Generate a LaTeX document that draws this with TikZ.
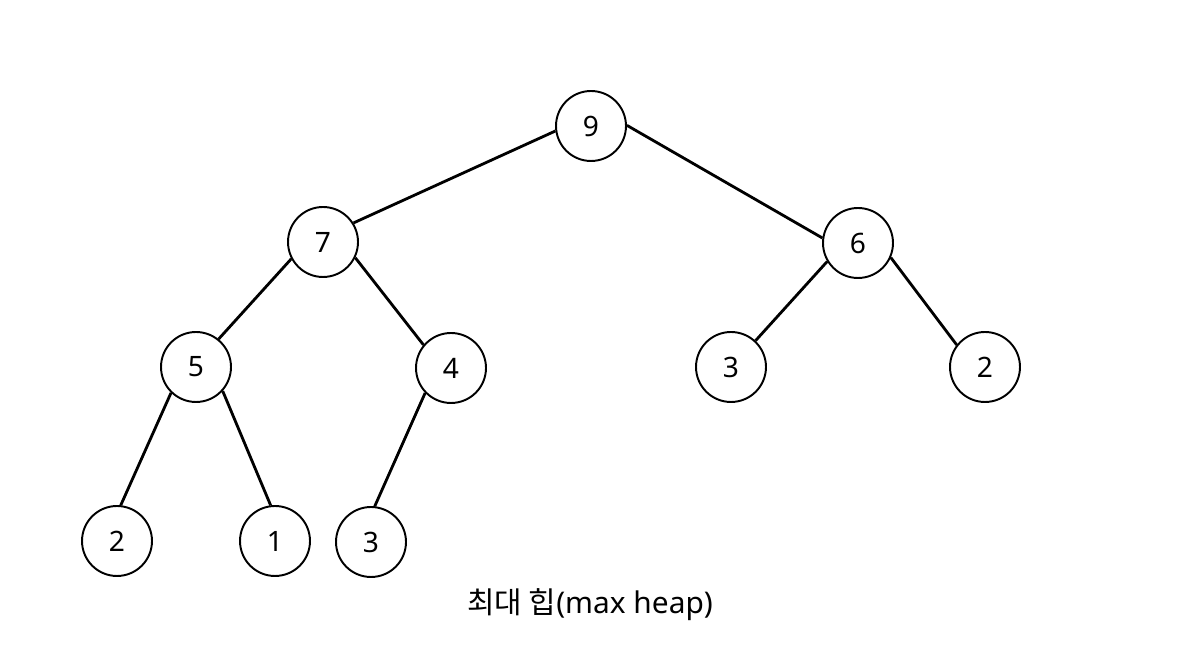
\documentclass[tikz,border=0pt]{standalone}
\usepackage{fontspec}
\setmainfont{Noto Sans}
\newfontfamily\krfont{Noto Sans CJK KR}
\begin{document}
\begin{tikzpicture}[x=0.02cm,y=-0.02cm,
  heapnode/.style={circle,draw=black,line width=1.1pt,minimum size=1.4cm,inner sep=0pt,fill=white,font=\fontsize{16}{18}\selectfont},
  edge/.style={line width=1.6pt,black}]
\useasboundingbox (0,0) rectangle (1181,661);
\node[heapnode] (n9) at (591,126) {9};
\node[heapnode] (n7) at (323,242) {7};
\node[heapnode] (n6) at (858,243) {6};
\node[heapnode] (n5) at (196,367) {5};
\node[heapnode] (n4) at (451,368) {4};
\node[heapnode] (n3a) at (731,367) {3};
\node[heapnode] (n2a) at (985,367) {2};
\node[heapnode] (n2b) at (117,541) {2};
\node[heapnode] (n1) at (275,541) {1};
\node[heapnode] (n3b) at (371,542) {3};
\draw[edge] (n9.188) -- (n7.32);
\draw[edge] (n9.1) -- (n6.172);
\draw[edge] (n7.208) -- (n5.51);
\draw[edge] (n7.334) -- (n4.140);
\draw[edge] (n6.211) -- (n3a.47);
\draw[edge] (n6.336) -- (n2a.142);
\draw[edge] (n5.226) -- (n2b.84);
\draw[edge] (n5.318) -- (n1.97);
\draw[edge] (n4.224) -- (n3b.84);
\node[anchor=base,font=\fontsize{17}{20}\selectfont,inner sep=0pt] (cap) at (590,614) {{\krfont 최대 힙}(max heap)};
\end{tikzpicture}
\end{document}
